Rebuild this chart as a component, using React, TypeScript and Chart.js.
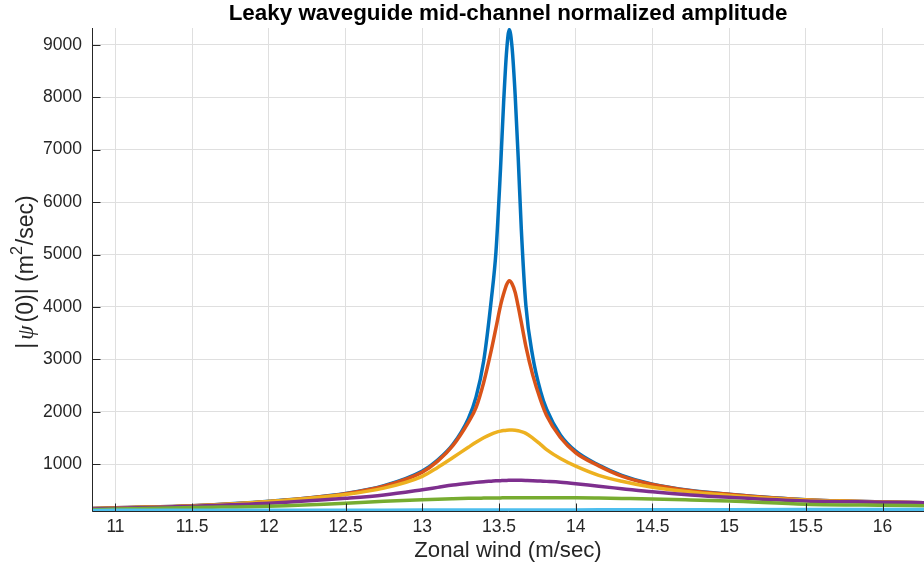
import React, { useEffect, useRef } from "react";
import { Chart, registerables } from "chart.js";

Chart.register(...registerables);

// ---------------- data ----------------
const windSpeed = [10.847, 11, 11.5, 12, 12.5, 12.75, 13, 13.1, 13.2, 13.3, 13.35, 13.4, 13.45, 13.48, 13.51, 13.53, 13.55, 13.567, 13.585, 13.605, 13.625, 13.645, 13.675, 13.72, 13.77, 13.81, 13.9, 14, 14.15, 14.3, 14.5, 14.75, 15, 15.5, 16, 16.27];

const ampBlue = [155, 170, 210, 295, 445, 590, 870, 1080, 1380, 1870, 2280, 2970, 4150, 5050, 6650, 7900, 8900, 9290, 8950, 8050, 6850, 5500, 4030, 3050, 2400, 2050, 1560, 1250, 985, 790, 620, 500, 430, 325, 283, 268];
const ampOrange = [155, 170, 210, 292, 440, 580, 850, 1060, 1360, 1800, 2080, 2560, 3180, 3600, 4030, 4250, 4430, 4500, 4440, 4280, 4010, 3710, 3250, 2700, 2230, 1930, 1510, 1220, 970, 775, 615, 497, 428, 322, 282, 268];
const ampYellow = [150, 165, 205, 290, 425, 545, 770, 940, 1130, 1325, 1420, 1505, 1575, 1608, 1632, 1643, 1650, 1652, 1652, 1648, 1638, 1622, 1590, 1500, 1380, 1280, 1110, 965, 790, 675, 561, 470, 405, 318, 280, 266];
const ampPurple = [145, 160, 200, 256, 351, 414, 515, 560, 605, 640, 655, 668, 678, 684, 688, 691, 693, 694, 695, 695, 695, 694, 692, 688, 680, 674, 658, 630, 580, 535, 475, 415, 370, 300, 278, 266];
const ampGreen = [132, 145, 175, 200, 256, 295, 325, 335, 343, 350, 353, 355, 357, 358, 359, 360, 361, 361, 362, 362, 363, 363, 364, 364, 364, 364, 363, 361, 355, 348, 338, 320, 300, 240, 218, 210];
const ampCyan = [120, 121, 122, 123, 124, 125, 126, 127, 127, 128, 128, 128, 128, 128, 128, 128, 128, 128, 128, 128, 128, 128, 129, 129, 129, 129, 129, 130, 131, 132, 133, 134, 135, 136, 138, 138];

const xTicks = [11, 11.5, 12, 12.5, 13, 13.5, 14, 14.5, 15, 15.5, 16];
const yTicks = [1000, 2000, 3000, 4000, 5000, 6000, 7000, 8000, 9000];

const TITLE = "Leaky waveguide mid-channel normalized amplitude";
const X_LABEL = "Zonal wind (m/sec)";

const X_MIN = 10.847;
const X_MAX = 16.27;
const Y_MIN = 90;
const Y_MAX = 9320;

// ---------------- styles ----------------
const FONT = '"Liberation Sans", Arial, Helvetica, sans-serif';
const TEXT = "#262626";
const GRID = "#dfdfdf";

const seriesDefs = [
  { data: ampBlue, color: "#0072BD" },
  { data: ampOrange, color: "#D95319" },
  { data: ampYellow, color: "#EDB120" },
  { data: ampPurple, color: "#7E2F8E" },
  { data: ampGreen, color: "#77AC30" },
  { data: ampCyan, color: "#4DBEEE" },
];

const overlayPlugin = {
  id: "overlay",
  afterDatasetsDraw(chart: any) {
    const { ctx, chartArea: a, scales } = chart;
    const x = scales.x;
    const y = scales.y;
    ctx.save();
    ctx.strokeStyle = TEXT;
    ctx.lineWidth = 1;
    ctx.beginPath();
    const lx = Math.round(a.left) + 0.5;
    const by = Math.round(a.bottom) - 0.5;
    ctx.moveTo(lx, a.top);
    ctx.lineTo(lx, by);
    ctx.lineTo(a.right, by);
    const tl = 8;
    for (const v of xTicks) {
      const px = Math.round(x.getPixelForValue(v)) + 0.5;
      ctx.moveTo(px, by);
      ctx.lineTo(px, by - tl);
    }
    for (const v of yTicks) {
      const py = Math.round(y.getPixelForValue(v)) + 0.5;
      ctx.moveTo(lx, py);
      ctx.lineTo(lx + tl, py);
    }
    ctx.stroke();
    ctx.restore();
  },
  afterDraw(chart: any) {
    const { ctx } = chart;
    ctx.save();
    ctx.fillStyle = "#000000";
    ctx.textAlign = "center";
    ctx.textBaseline = "middle";
    ctx.font = `bold 22.4px ${FONT}`;
    ctx.fillText(TITLE, 508, 14);

    ctx.fillStyle = TEXT;
    ctx.font = `22.2px ${FONT}`;
    ctx.fillText(X_LABEL, 508, 551);

    // y label: |ψ(0)| (m^2/sec)
    const size = 23;
    const segs = [
      { t: "|", f: `${size}px ${FONT}`, dy: 0, pad: 3 },
      { t: "\u03C8", f: `italic ${size}px "Liberation Serif", "DejaVu Serif", serif`, dy: 0, pad: 3 },
      { t: "(0)| (m", f: `${size}px ${FONT}`, dy: 0, pad: 0 },
      { t: "2", f: `${size * 0.7}px ${FONT}`, dy: -size * 0.42, pad: 1 },
      { t: "/sec)", f: `${size}px ${FONT}`, dy: 0, pad: 0 },
    ];
    let total = 0;
    const widths: number[] = [];
    for (const s of segs) {
      ctx.font = s.f;
      const w = ctx.measureText(s.t).width + s.pad;
      widths.push(w);
      total += w;
    }
    ctx.translate(27, 272);
    ctx.rotate(-Math.PI / 2);
    ctx.textAlign = "left";
    ctx.textBaseline = "middle";
    let cx = -total / 2;
    segs.forEach((s, i) => {
      ctx.font = s.f;
      ctx.fillText(s.t, cx, s.dy);
      cx += widths[i];
    });
    ctx.restore();
  },
};

export default function App() {
  const canvasRef = useRef<HTMLCanvasElement | null>(null);

  useEffect(() => {
    document.body.style.margin = "0";
    const canvas = canvasRef.current;
    if (!canvas) return;
    const datasets = seriesDefs.map((s, i) => ({
      label: `series${i + 1}`,
      data: windSpeed.map((xv, j) => ({ x: xv, y: s.data[j] })),
      borderColor: s.color,
      backgroundColor: s.color,
      borderWidth: 3.5,
      pointRadius: 0,
      fill: false,
      cubicInterpolationMode: "monotone" as const,
      clip: 0,
      order: seriesDefs.length - i,
    }));

    const chart = new Chart(canvas, {
      type: "line",
      data: { datasets },
      options: {
        animation: false,
        responsive: false,
        devicePixelRatio: 1,
        layout: { padding: { top: 28, left: 0, right: 0, bottom: 0 } },
        plugins: {
          legend: { display: false },
          tooltip: { enabled: false },
          title: { display: false },
        },
        scales: {
          x: {
            type: "linear",
            min: X_MIN,
            max: X_MAX,
            afterBuildTicks: (s: any) => {
              s.ticks = xTicks.map((v) => ({ value: v }));
            },
            afterFit: (s: any) => {
              s.height = 58;
            },
            grid: { color: GRID, lineWidth: 1, drawTicks: false },
            border: { display: false },
            ticks: {
              autoSkip: false,
              maxRotation: 0,
              padding: 5,
              color: TEXT,
              font: { family: FONT, size: 17.5 },
              callback: (v: any) => String(v),
            },
          },
          y: {
            type: "linear",
            min: Y_MIN,
            max: Y_MAX,
            afterBuildTicks: (s: any) => {
              s.ticks = yTicks.map((v) => ({ value: v }));
            },
            afterFit: (s: any) => {
              s.width = 92;
            },
            grid: { color: GRID, lineWidth: 1, drawTicks: false },
            border: { display: false },
            ticks: {
              autoSkip: false,
              padding: 10,
              color: TEXT,
              font: { family: FONT, size: 17.5 },
              callback: (v: any) => String(v),
            },
          },
        },
      },
      plugins: [overlayPlugin],
    });
    return () => chart.destroy();
  }, []);

  return (
    <div style={{ position: "absolute", left: 0, top: 0, width: 924, height: 570, background: "#ffffff" }}>
      <canvas ref={canvasRef} width={924} height={570} style={{ display: "block", width: 924, height: 570 }} />
    </div>
  );
}
